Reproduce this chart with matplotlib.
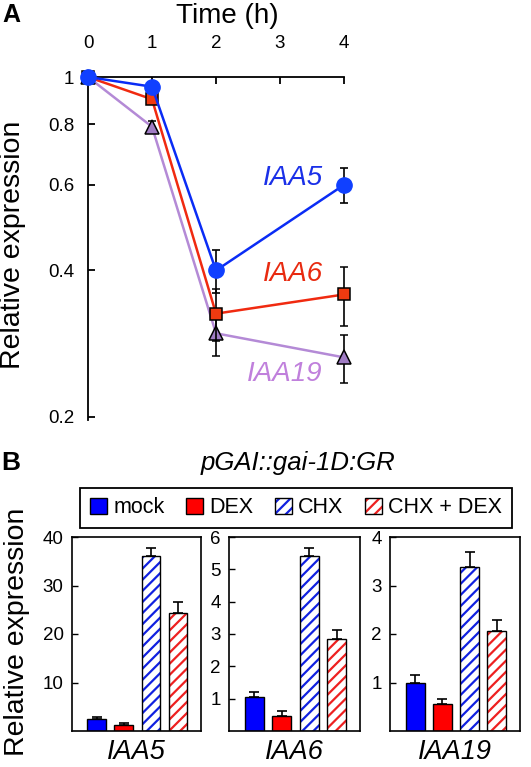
import numpy as np
import matplotlib.pyplot as plt
from matplotlib.patches import Patch

plt.rcParams['font.family'] = ['Liberation Sans', 'DejaVu Sans']
plt.rcParams['hatch.linewidth'] = 1.6

# ---- Panel A data: time course (relative expression)
time_h = [0, 1, 2, 4]
iaa5 = [1.0, 0.955, 0.40, 0.60]
iaa5_err = [0.0, 0.0, 0.04, 0.05]
iaa6 = [1.0, 0.90, 0.326, 0.357]
iaa6_err = [0.0, 0.0, 0.04, 0.05]
iaa19 = [1.0, 0.79, 0.297, 0.265]
iaa19_err = [0.0, 0.02, 0.03, 0.03]

# ---- Panel B data: treatments per gene
treatments = ['mock', 'DEX', 'CHX', 'CHX + DEX']
genes = ['IAA5', 'IAA6', 'IAA19']
bar_vals = [[2.5, 1.3, 36.1, 24.3],
            [1.05, 0.46, 5.42, 2.85],
            [1.0, 0.56, 3.38, 2.07]]
bar_errs = [[0.4, 0.3, 1.6, 2.3],
            [0.15, 0.16, 0.25, 0.28],
            [0.16, 0.10, 0.31, 0.22]]
y_ticks = [[10, 20, 30, 40], [1, 2, 3, 4, 5, 6], [1, 2, 3, 4]]

fig = plt.figure(figsize=(5.31, 7.67), dpi=100)

# ---------------- Panel A
ax = fig.add_axes([88/531, 1 - 420/767, 256/531, 343/767])
ax.set_yscale('log')
blue, red, purple = '#0a2cf5', '#f02a10', '#b48ad6'
ax.errorbar(time_h, iaa19, yerr=iaa19_err, color=purple, lw=1.8, marker='^', ms=10,
            mfc='#a07cc4', mec='black', mew=1.1, ecolor='black', elinewidth=1.2,
            capsize=3, capthick=1.2, clip_on=False, zorder=3)
ax.errorbar(time_h, iaa6, yerr=iaa6_err, color=red, lw=1.8, marker='s', ms=9,
            mfc='#f03a10', mec='black', mew=1.1, ecolor='black', elinewidth=1.2,
            capsize=3, capthick=1.2, clip_on=False, zorder=4)
ax.errorbar(time_h, iaa5, yerr=iaa5_err, color=blue, lw=1.8, marker='o', ms=11,
            mfc='#1040ff', mec='#1040ff', ecolor='black', elinewidth=1.2,
            capsize=3, capthick=1.2, clip_on=False, zorder=5)

ax.set_xlim(0, 4)
ax.set_ylim(0.197, 1.0)
ax.set_yticks([0.2, 0.4, 0.6, 0.8, 1.0])
ax.set_yticklabels(['0.2', '0.4', '0.6', '0.8', '1'])
ax.yaxis.set_minor_locator(plt.NullLocator())
ax.set_xticks([0, 1, 2, 3, 4])
ax.xaxis.tick_top()
ax.spines['right'].set_visible(False)
ax.spines['bottom'].set_visible(False)
for s in ['top', 'left']:
    ax.spines[s].set_linewidth(1.3)
ax.tick_params(axis='x', direction='in', length=5, width=1.3, labelsize=13.5, pad=18)
ax.tick_params(axis='y', direction='in', length=5, width=1.3, labelsize=13.5, pad=10)

ax.text(3.67, 0.619, 'IAA5', color='#1a30e8', style='italic', fontsize=20,
        ha='right', va='center')
ax.text(3.67, 0.394, 'IAA6', color='#e82a10', style='italic', fontsize=20,
        ha='right', va='center')
ax.text(3.67, 0.245, 'IAA19', color='#c080dc', style='italic', fontsize=20,
        ha='right', va='center')

fig.text(227/531, 1 - 16/767, 'Time (h)', fontsize=20, ha='center', va='center')
fig.text(2/531, 1 - 15/767, 'A', fontsize=18, fontweight='bold', ha='left', va='center')
fig.text(13/531, 1 - 245/767, 'Relative expression', fontsize=20.5, rotation=90,
         ha='center', va='center')

# ---------------- Panel B
fill_cols = ['#0000ff', '#ff0000', 'white', 'white']
hatch_cols = [None, None, '#1020e0', '#ee2020']
lefts = [72, 229, 390]
widths = [129, 131, 130]
x = np.arange(len(treatments))
for i, g in enumerate(genes):
    bx = fig.add_axes([lefts[i]/531, 1 - 731/767, widths[i]/531, 194/767])
    for j in range(len(treatments)):
        if hatch_cols[j] is None:
            bx.bar(x[j], bar_vals[i][j], width=0.7, color=fill_cols[j],
                   edgecolor='black', linewidth=1.0, zorder=2)
        else:
            bx.bar(x[j], bar_vals[i][j], width=0.7, color='white',
                   edgecolor=hatch_cols[j], hatch='///', linewidth=0, zorder=2)
            bx.bar(x[j], bar_vals[i][j], width=0.7, fill=False,
                   edgecolor='black', linewidth=1.0, zorder=3)
    bx.errorbar(x, bar_vals[i], yerr=[[0]*4, bar_errs[i]], fmt='none',
                ecolor='black', elinewidth=1.2, capsize=3.5, capthick=1.2, zorder=1)
    bx.set_xlim(-0.92, 3.85)
    bx.set_ylim(0, y_ticks[i][-1])
    bx.set_yticks(y_ticks[i])
    bx.set_xticks([])
    bx.tick_params(axis='y', direction='in', length=4, width=1.0, labelsize=13.5, pad=6)
    for s in bx.spines.values():
        s.set_linewidth(1.2)
    bx.set_xlabel(g, style='italic', fontsize=19.5, labelpad=6)

# legend
handles = [Patch(facecolor='#0000ff', edgecolor='black'),
           Patch(facecolor='#ff0000', edgecolor='black'),
           (Patch(facecolor='white', edgecolor='#1020e0', hatch='///', lw=0),
            Patch(fill=False, edgecolor='black')),
           (Patch(facecolor='white', edgecolor='#ee2020', hatch='///', lw=0),
            Patch(fill=False, edgecolor='black'))]
leg = fig.legend(handles, treatments, ncol=4, loc='lower left',
                 bbox_to_anchor=(80/531, 1 - 528/767, 432/531, 39/767), mode='expand',
                 fontsize=15.5, handlelength=0.8, handleheight=0.8, handletextpad=0.3,
                 columnspacing=0.8, borderaxespad=0, fancybox=False, framealpha=1,
                 edgecolor='black', borderpad=0.45)
leg.get_frame().set_linewidth(1.3)

fig.text(298/531, 1 - 463/767, 'pGAI::gai-1D:GR', style='italic', fontsize=18.5,
         ha='center', va='center')
fig.text(1/531, 1 - 463/767, 'B', fontsize=19, fontweight='bold', ha='left', va='center')
fig.text(17/531, 1 - 632/767, 'Relative expression', fontsize=20.5, rotation=90,
         ha='center', va='center')

fig.savefig('out.png', dpi=100)
